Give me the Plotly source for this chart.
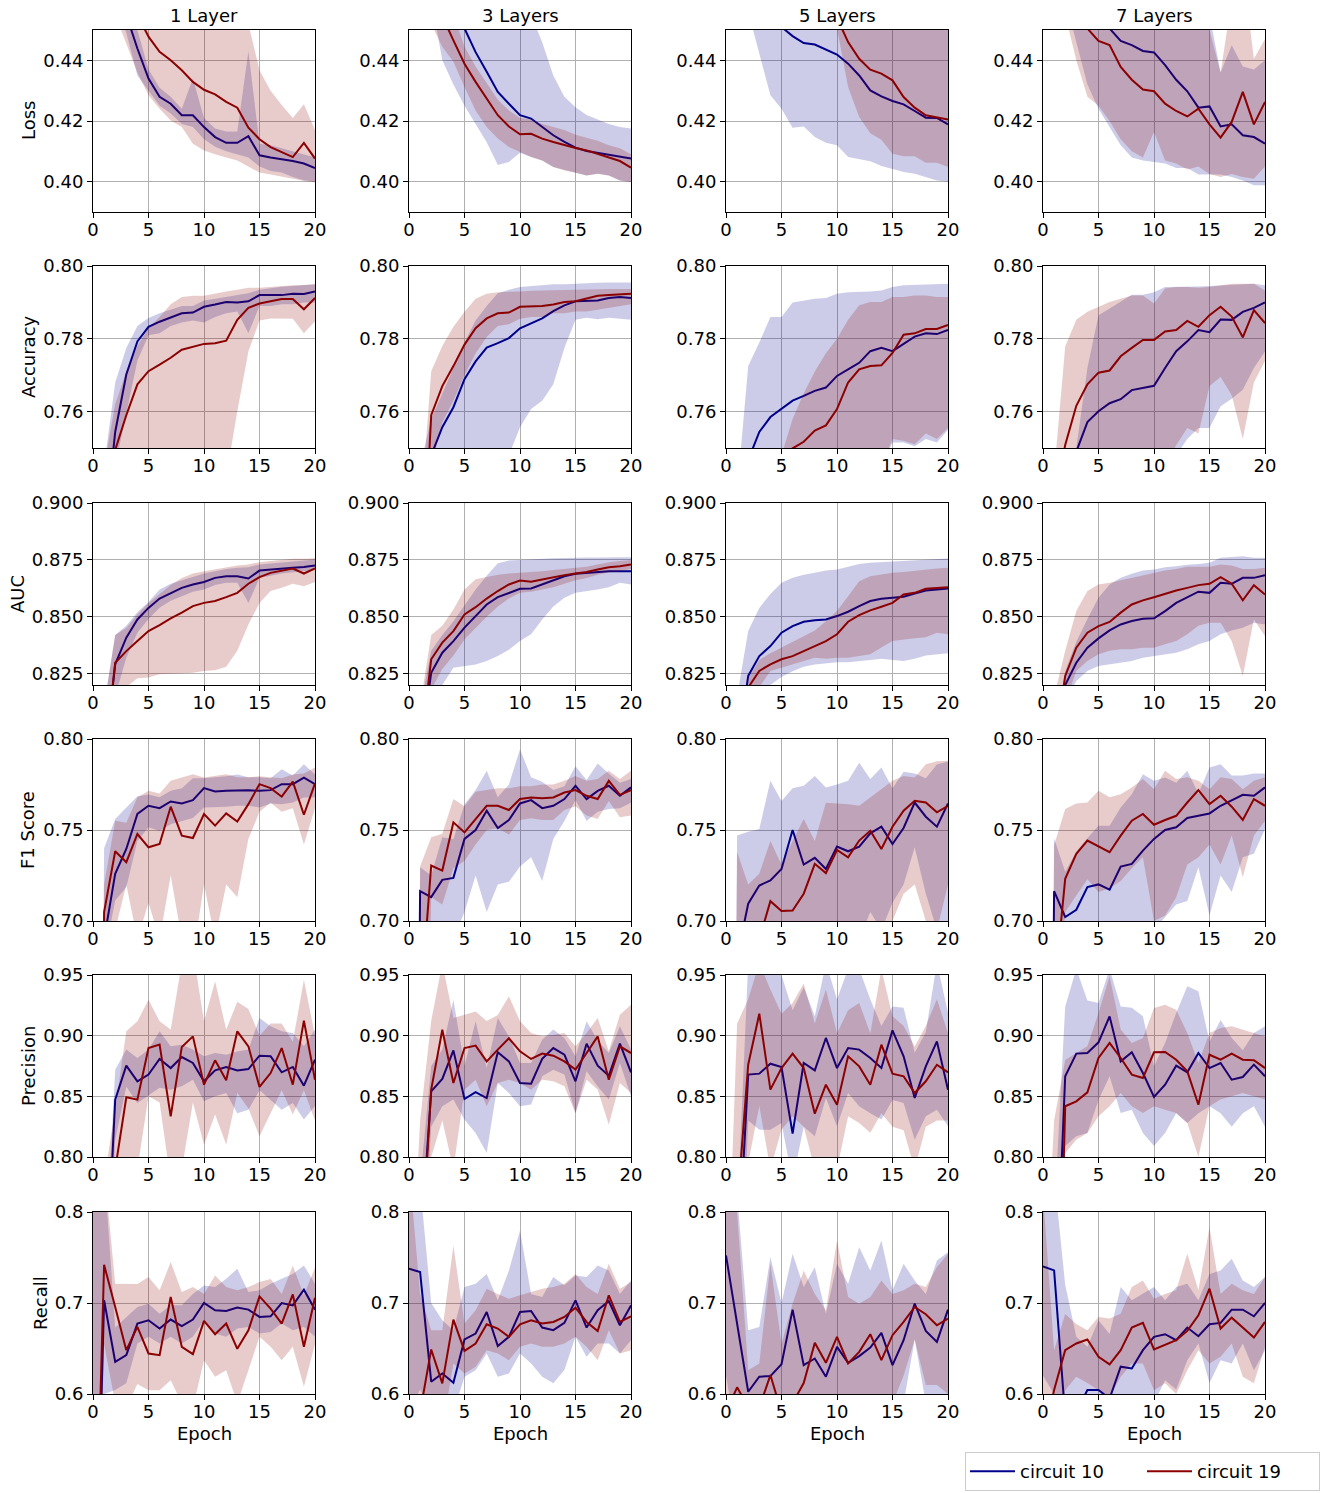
import plotly.graph_objects as go

EPOCHS = list(range(21))
LAYER_TITLES = ["1 Layer", "3 Layers", "5 Layers", "7 Layers"]
METRICS = ["Loss", "Accuracy", "AUC", "F1 Score", "Precision", "Recall"]
SERIES = ["circuit 10", "circuit 19"]

# ---------------- Loss ----------------
loss_1_c10 = [0.60, 0.52, 0.48, 0.455, 0.4439, 0.434, 0.428, 0.4257, 0.4219, 0.4219, 0.418, 0.4147, 0.4128, 0.4128, 0.415, 0.4087, 0.408, 0.4075, 0.4068, 0.406, 0.4045]
loss_1_c10_lo = [0.56, 0.49, 0.46, 0.449, 0.435, 0.430, 0.425, 0.4225, 0.419, 0.418, 0.414, 0.4115, 0.410, 0.409, 0.408, 0.405, 0.4035, 0.403, 0.4015, 0.4005, 0.400]
loss_1_c10_hi = [0.65, 0.55, 0.50, 0.462, 0.450, 0.437, 0.431, 0.428, 0.424, 0.434, 0.421, 0.4175, 0.4165, 0.4165, 0.443, 0.4125, 0.412, 0.411, 0.410, 0.409, 0.408]
loss_1_c19 = [0.60, 0.52, 0.48, 0.46, 0.455, 0.4478, 0.4428, 0.440, 0.4367, 0.4329, 0.4303, 0.4288, 0.4263, 0.4244, 0.4178, 0.414, 0.4114, 0.4098, 0.4081, 0.4128, 0.4076]
loss_1_c19_lo = [0.55, 0.48, 0.455, 0.445, 0.436, 0.4285, 0.424, 0.4202, 0.418, 0.4125, 0.4103, 0.409, 0.408, 0.407, 0.405, 0.403, 0.4024, 0.4018, 0.401, 0.4002, 0.3997]
loss_1_c19_hi = [0.66, 0.58, 0.53, 0.50, 0.49, 0.485, 0.48, 0.475, 0.47, 0.465, 0.462, 0.46, 0.458, 0.455, 0.452, 0.4367, 0.430, 0.4253, 0.421, 0.4255, 0.417]

loss_3_c10 = [0.62, 0.54, 0.50, 0.475, 0.46, 0.4505, 0.4427, 0.4362, 0.4296, 0.4257, 0.4219, 0.4208, 0.418, 0.4153, 0.4131, 0.4112, 0.4101, 0.4095, 0.4087, 0.4081, 0.4076]
loss_3_c10_lo = [0.58, 0.50, 0.46, 0.44, 0.432, 0.425, 0.419, 0.413, 0.4055, 0.4065, 0.4095, 0.4081, 0.407, 0.4048, 0.4037, 0.4029, 0.402, 0.4026, 0.402, 0.4004, 0.3999]
loss_3_c10_hi = [0.70, 0.62, 0.56, 0.52, 0.50, 0.49, 0.48, 0.475, 0.47, 0.465, 0.46, 0.455, 0.446, 0.435, 0.428, 0.4245, 0.422, 0.4205, 0.419, 0.418, 0.4175]
loss_3_c19 = [0.58, 0.50, 0.47, 0.4545, 0.4466, 0.4389, 0.4329, 0.4274, 0.4219, 0.4182, 0.4156, 0.4158, 0.4142, 0.4131, 0.412, 0.4111, 0.4103, 0.4092, 0.4079, 0.4068, 0.4046]
loss_3_c19_lo = [0.54, 0.47, 0.452, 0.4445, 0.4395, 0.4312, 0.4235, 0.418, 0.4142, 0.4114, 0.4098, 0.4081, 0.407, 0.4048, 0.4037, 0.4029, 0.402, 0.4026, 0.402, 0.4004, 0.3999]
loss_3_c19_hi = [0.64, 0.55, 0.50, 0.47, 0.455, 0.4445, 0.438, 0.4325, 0.427, 0.4235, 0.421, 0.4205, 0.419, 0.418, 0.417, 0.4155, 0.4145, 0.4135, 0.412, 0.411, 0.409]

loss_5_c10 = [0.60, 0.52, 0.49, 0.47, 0.46, 0.451, 0.448, 0.4457, 0.4452, 0.4435, 0.4419, 0.4389, 0.435, 0.4301, 0.4281, 0.4266, 0.4255, 0.4233, 0.4211, 0.421, 0.4189]
loss_5_c10_lo = [0.55, 0.50, 0.456, 0.442, 0.4285, 0.424, 0.4178, 0.4182, 0.4147, 0.4128, 0.412, 0.4081, 0.4073, 0.4067, 0.4052, 0.4043, 0.4032, 0.4026, 0.4015, 0.4004, 0.400]
loss_5_c10_hi = [0.70, 0.62, 0.58, 0.55, 0.53, 0.52, 0.51, 0.50, 0.49, 0.485, 0.48, 0.475, 0.47, 0.468, 0.466, 0.464, 0.462, 0.46, 0.458, 0.456, 0.455]
loss_5_c19 = [0.62, 0.55, 0.52, 0.50, 0.49, 0.48, 0.475, 0.47, 0.465, 0.46, 0.454, 0.446, 0.4405, 0.4369, 0.4356, 0.4334, 0.4279, 0.4244, 0.4219, 0.4213, 0.4205]
loss_5_c19_lo = [0.58, 0.52, 0.49, 0.48, 0.475, 0.47, 0.465, 0.462, 0.458, 0.455, 0.4505, 0.4312, 0.4213, 0.416, 0.4138, 0.4092, 0.4084, 0.4084, 0.4062, 0.4062, 0.4048]
loss_5_c19_hi = [0.70, 0.64, 0.60, 0.58, 0.56, 0.55, 0.54, 0.53, 0.52, 0.51, 0.50, 0.49, 0.48, 0.475, 0.47, 0.468, 0.465, 0.462, 0.46, 0.458, 0.457]

loss_7_c10 = [0.58, 0.50, 0.48, 0.47, 0.46, 0.455, 0.4505, 0.4464, 0.445, 0.4431, 0.4426, 0.4384, 0.4336, 0.4298, 0.4244, 0.4248, 0.4182, 0.4189, 0.4153, 0.4147, 0.4125]
loss_7_c10_lo = [0.52, 0.48, 0.46, 0.445, 0.432, 0.424, 0.418, 0.412, 0.408, 0.407, 0.4065, 0.406, 0.4045, 0.4045, 0.4024, 0.4024, 0.4024, 0.4015, 0.4004, 0.3988, 0.3988]
loss_7_c10_hi = [0.68, 0.62, 0.58, 0.55, 0.53, 0.51, 0.50, 0.49, 0.485, 0.48, 0.475, 0.47, 0.468, 0.465, 0.46, 0.455, 0.436, 0.445, 0.438, 0.437, 0.440]
loss_7_c19 = [0.56, 0.49, 0.47, 0.46, 0.4505, 0.4464, 0.445, 0.4378, 0.4336, 0.4304, 0.4298, 0.4257, 0.4233, 0.4215, 0.4241, 0.4189, 0.4145, 0.4197, 0.4296, 0.4189, 0.4263]
loss_7_c19_lo = [0.50, 0.47, 0.455, 0.44, 0.428, 0.425, 0.42, 0.414, 0.41, 0.408, 0.4164, 0.407, 0.406, 0.404, 0.405, 0.4025, 0.4015, 0.4025, 0.4015, 0.401, 0.405]
loss_7_c19_hi = [0.66, 0.60, 0.56, 0.53, 0.51, 0.50, 0.49, 0.485, 0.48, 0.475, 0.47, 0.465, 0.46, 0.458, 0.455, 0.45, 0.436, 0.46, 0.47, 0.4405, 0.447]

# ---------------- Accuracy ----------------
acc_1_c10 = [0.65, 0.725, 0.7544, 0.7702, 0.7793, 0.7833, 0.7847, 0.7858, 0.787, 0.7872, 0.7888, 0.7894, 0.7901, 0.79, 0.7903, 0.792, 0.792, 0.792, 0.7924, 0.7923, 0.793]
acc_1_c10_lo = [0.60, 0.70, 0.745, 0.76, 0.774, 0.781, 0.7815, 0.7835, 0.7845, 0.785, 0.7845, 0.786, 0.787, 0.7875, 0.7815, 0.789, 0.789, 0.7895, 0.7895, 0.790, 0.790]
acc_1_c10_hi = [0.70, 0.745, 0.768, 0.7775, 0.7835, 0.7857, 0.787, 0.788, 0.789, 0.789, 0.7905, 0.791, 0.7915, 0.792, 0.7925, 0.7935, 0.794, 0.7943, 0.7945, 0.7948, 0.795]
acc_1_c19 = [0.65, 0.72, 0.7495, 0.759, 0.7675, 0.7711, 0.7729, 0.7748, 0.777, 0.7779, 0.7786, 0.7788, 0.7795, 0.7852, 0.7885, 0.7897, 0.7904, 0.7909, 0.7909, 0.7881, 0.7912]
acc_1_c19_lo = [0.60, 0.68, 0.70, 0.71, 0.72, 0.725, 0.73, 0.73, 0.735, 0.735, 0.735, 0.738, 0.742, 0.76, 0.7765, 0.785, 0.7856, 0.7856, 0.7855, 0.7815, 0.7848]
acc_1_c19_hi = [0.70, 0.745, 0.762, 0.771, 0.778, 0.783, 0.786, 0.7895, 0.7915, 0.7918, 0.7918, 0.7925, 0.793, 0.7935, 0.794, 0.794, 0.7943, 0.7945, 0.7947, 0.7948, 0.795]

acc_3_c10 = [0.65, 0.72, 0.748, 0.7557, 0.7612, 0.7689, 0.7738, 0.7776, 0.7788, 0.7802, 0.7829, 0.7843, 0.7856, 0.7876, 0.7892, 0.7903, 0.7903, 0.7905, 0.7912, 0.7915, 0.7912]
acc_3_c10_lo = [0.60, 0.68, 0.70, 0.71, 0.715, 0.72, 0.725, 0.73, 0.735, 0.748, 0.7557, 0.7607, 0.763, 0.7675, 0.7775, 0.7852, 0.7858, 0.7854, 0.7858, 0.7855, 0.7852]
acc_3_c10_hi = [0.70, 0.745, 0.758, 0.765, 0.772, 0.779, 0.785, 0.789, 0.7925, 0.7935, 0.7942, 0.7945, 0.7948, 0.795, 0.795, 0.7952, 0.7953, 0.7954, 0.7955, 0.7956, 0.7955]
acc_3_c19 = [0.62, 0.70, 0.759, 0.767, 0.7725, 0.7784, 0.7829, 0.7856, 0.787, 0.7872, 0.7888, 0.7888, 0.789, 0.7894, 0.7901, 0.7903, 0.791, 0.7918, 0.792, 0.7921, 0.7924]
acc_3_c19_lo = [0.58, 0.66, 0.745, 0.757, 0.763, 0.77, 0.776, 0.7805, 0.7835, 0.784, 0.7855, 0.786, 0.786, 0.787, 0.787, 0.7875, 0.7875, 0.788, 0.7885, 0.789, 0.7895]
acc_3_c19_hi = [0.66, 0.73, 0.7711, 0.778, 0.7833, 0.7874, 0.791, 0.7924, 0.7928, 0.7928, 0.793, 0.7932, 0.7933, 0.7934, 0.7935, 0.7935, 0.7936, 0.7937, 0.7937, 0.7937, 0.7937]

acc_5_c10 = [0.70, 0.735, 0.7467, 0.7544, 0.7585, 0.7607, 0.763, 0.7643, 0.7657, 0.7666, 0.7698, 0.7716, 0.7734, 0.7766, 0.7775, 0.7766, 0.7786, 0.7806, 0.7815, 0.7813, 0.7824]
acc_5_c10_lo = [0.65, 0.70, 0.71, 0.715, 0.72, 0.722, 0.725, 0.727, 0.73, 0.732, 0.735, 0.737, 0.74, 0.742, 0.745, 0.7515, 0.7515, 0.7505, 0.7525, 0.7515, 0.755]
acc_5_c10_hi = [0.73, 0.738, 0.7725, 0.779, 0.786, 0.786, 0.790, 0.7906, 0.791, 0.7912, 0.7924, 0.7928, 0.7928, 0.793, 0.7933, 0.7942, 0.7947, 0.7948, 0.7951, 0.7951, 0.7951]
acc_5_c19 = [0.68, 0.72, 0.735, 0.74, 0.744, 0.747, 0.7499, 0.7517, 0.7548, 0.7562, 0.7607, 0.768, 0.7716, 0.7725, 0.7727, 0.7761, 0.7811, 0.7815, 0.7827, 0.7827, 0.7838]
acc_5_c19_lo = [0.62, 0.68, 0.70, 0.705, 0.71, 0.712, 0.715, 0.718, 0.72, 0.722, 0.725, 0.73, 0.735, 0.74, 0.745, 0.7525, 0.752, 0.751, 0.754, 0.7525, 0.7555]
acc_5_c19_hi = [0.70, 0.73, 0.738, 0.742, 0.745, 0.748, 0.758, 0.765, 0.771, 0.776, 0.780, 0.7852, 0.7892, 0.7901, 0.7901, 0.7915, 0.7915, 0.7919, 0.7919, 0.7915, 0.7915]

acc_7_c10 = [0.68, 0.72, 0.74, 0.749, 0.7571, 0.7601, 0.7623, 0.7634, 0.7659, 0.7666, 0.7671, 0.772, 0.7766, 0.7793, 0.7824, 0.7818, 0.7853, 0.7852, 0.7874, 0.7885, 0.79]
acc_7_c10_lo = [0.62, 0.68, 0.70, 0.71, 0.72, 0.725, 0.73, 0.733, 0.736, 0.74, 0.744, 0.746, 0.748, 0.7525, 0.7555, 0.7555, 0.7615, 0.7635, 0.766, 0.772, 0.7765]
acc_7_c10_hi = [0.72, 0.74, 0.745, 0.75, 0.772, 0.7865, 0.7883, 0.7903, 0.7921, 0.7921, 0.7928, 0.7942, 0.7942, 0.7943, 0.7944, 0.7945, 0.7947, 0.7949, 0.7951, 0.7951, 0.7947]
acc_7_c19 = [0.70, 0.735, 0.7508, 0.7616, 0.7675, 0.7707, 0.7713, 0.7752, 0.7775, 0.7797, 0.7797, 0.782, 0.7824, 0.7849, 0.7833, 0.7865, 0.7888, 0.7861, 0.7804, 0.7879, 0.7843]
acc_7_c19_lo = [0.64, 0.70, 0.71, 0.72, 0.725, 0.73, 0.733, 0.736, 0.739, 0.742, 0.744, 0.746, 0.7505, 0.7555, 0.754, 0.767, 0.7695, 0.7645, 0.7525, 0.768, 0.774]
acc_7_c19_hi = [0.72, 0.743, 0.7779, 0.7852, 0.7874, 0.7888, 0.7901, 0.791, 0.7919, 0.7919, 0.7897, 0.7938, 0.7942, 0.7942, 0.794, 0.7942, 0.7947, 0.7951, 0.7951, 0.7951, 0.7933]

# ---------------- AUC ----------------
auc_1_c10 = [0.75, 0.785, 0.8291, 0.8408, 0.8488, 0.8539, 0.858, 0.8605, 0.8627, 0.8642, 0.8653, 0.8671, 0.8678, 0.8678, 0.8668, 0.8703, 0.8708, 0.8712, 0.8715, 0.8719, 0.8725]
auc_1_c10_lo = [0.72, 0.77, 0.815, 0.832, 0.843, 0.849, 0.854, 0.857, 0.859, 0.861, 0.862, 0.864, 0.865, 0.865, 0.856, 0.867, 0.868, 0.869, 0.8695, 0.870, 0.8705]
auc_1_c10_hi = [0.78, 0.81, 0.842, 0.846, 0.852, 0.8565, 0.862, 0.8645, 0.866, 0.8675, 0.869, 0.870, 0.871, 0.8715, 0.8718, 0.873, 0.8735, 0.874, 0.8745, 0.875, 0.8752]
auc_1_c19 = [0.75, 0.785, 0.8298, 0.8349, 0.8393, 0.8437, 0.8463, 0.8493, 0.8518, 0.8547, 0.8561, 0.8569, 0.8586, 0.8605, 0.8645, 0.8674, 0.8693, 0.8703, 0.8712, 0.869, 0.8712]
auc_1_c19_lo = [0.70, 0.76, 0.815, 0.819, 0.823, 0.8233, 0.8247, 0.8248, 0.825, 0.8254, 0.8262, 0.8265, 0.828, 0.835, 0.8466, 0.856, 0.8613, 0.8627, 0.8645, 0.8634, 0.8653]
auc_1_c19_hi = [0.78, 0.81, 0.842, 0.845, 0.851, 0.856, 0.86, 0.864, 0.867, 0.869, 0.870, 0.8708, 0.8718, 0.8725, 0.873, 0.874, 0.8745, 0.875, 0.8755, 0.8755, 0.8757]

auc_3_c10 = [0.74, 0.79, 0.8254, 0.8342, 0.8393, 0.8452, 0.8503, 0.8554, 0.8586, 0.8605, 0.8623, 0.8624, 0.8642, 0.8661, 0.8678, 0.8689, 0.8693, 0.8697, 0.87, 0.87, 0.87]
auc_3_c10_lo = [0.70, 0.76, 0.81, 0.82, 0.8276, 0.8284, 0.829, 0.8306, 0.8327, 0.8355, 0.8393, 0.8423, 0.8488, 0.8545, 0.8583, 0.8605, 0.8613, 0.862, 0.863, 0.8649, 0.8642]
auc_3_c10_hi = [0.78, 0.81, 0.835, 0.842, 0.848, 0.855, 0.862, 0.868, 0.8735, 0.8747, 0.875, 0.8752, 0.8755, 0.8757, 0.8758, 0.876, 0.876, 0.876, 0.8762, 0.8762, 0.8762]
auc_3_c19 = [0.74, 0.79, 0.8313, 0.8386, 0.8437, 0.851, 0.8542, 0.858, 0.8613, 0.8642, 0.8659, 0.8654, 0.8664, 0.8674, 0.8683, 0.869, 0.8697, 0.8708, 0.8718, 0.8722, 0.873]
auc_3_c19_lo = [0.70, 0.76, 0.818, 0.827, 0.833, 0.840, 0.845, 0.850, 0.8545, 0.858, 0.8605, 0.861, 0.862, 0.863, 0.8645, 0.866, 0.867, 0.8685, 0.8695, 0.870, 0.871]
auc_3_c19_hi = [0.78, 0.81, 0.842, 0.846, 0.8532, 0.862, 0.8665, 0.8675, 0.8685, 0.869, 0.8693, 0.8695, 0.870, 0.8705, 0.871, 0.8715, 0.872, 0.873, 0.874, 0.8745, 0.875]

auc_5_c10 = [0.74, 0.79, 0.824, 0.8327, 0.8371, 0.843, 0.8459, 0.8478, 0.8485, 0.8488, 0.8503, 0.8522, 0.8547, 0.8569, 0.8579, 0.8583, 0.8588, 0.8602, 0.8615, 0.862, 0.8624]
auc_5_c10_lo = [0.70, 0.76, 0.81, 0.815, 0.82, 0.8235, 0.826, 0.828, 0.829, 0.8295, 0.830, 0.830, 0.8305, 0.831, 0.8315, 0.831, 0.8305, 0.8315, 0.833, 0.8335, 0.834]
auc_5_c10_hi = [0.78, 0.815, 0.8437, 0.8539, 0.860, 0.8649, 0.8671, 0.8685, 0.8693, 0.8703, 0.8708, 0.872, 0.8732, 0.8737, 0.874, 0.8742, 0.8745, 0.875, 0.8752, 0.8755, 0.8756]
auc_5_c19 = [0.74, 0.79, 0.8189, 0.8262, 0.8291, 0.8313, 0.8327, 0.8349, 0.8371, 0.8393, 0.8423, 0.8478, 0.8507, 0.8528, 0.8544, 0.8561, 0.8598, 0.8605, 0.8623, 0.8626, 0.863]
auc_5_c19_lo = [0.70, 0.76, 0.812, 0.819, 0.8262, 0.8276, 0.829, 0.8305, 0.832, 0.8315, 0.832, 0.832, 0.8327, 0.8335, 0.8365, 0.8393, 0.840, 0.8405, 0.841, 0.843, 0.8423]
auc_5_c19_hi = [0.78, 0.80, 0.823, 0.831, 0.834, 0.8365, 0.839, 0.8415, 0.844, 0.848, 0.8525, 0.859, 0.8656, 0.8678, 0.8686, 0.8693, 0.8697, 0.8703, 0.8708, 0.8712, 0.8715]

auc_7_c10 = [0.73, 0.78, 0.82, 0.8298, 0.8364, 0.8405, 0.844, 0.8466, 0.8481, 0.8491, 0.8493, 0.8525, 0.8561, 0.8586, 0.861, 0.8605, 0.8649, 0.8645, 0.8671, 0.8671, 0.8683]
auc_7_c10_lo = [0.70, 0.76, 0.812, 0.8218, 0.8262, 0.8284, 0.829, 0.8298, 0.8306, 0.832, 0.8327, 0.8335, 0.8342, 0.8357, 0.8379, 0.8393, 0.8423, 0.844, 0.8452, 0.8474, 0.8466]
auc_7_c10_hi = [0.76, 0.80, 0.826, 0.839, 0.849, 0.8583, 0.8642, 0.8671, 0.8689, 0.8703, 0.8708, 0.8718, 0.8722, 0.8729, 0.8732, 0.8737, 0.8759, 0.8762, 0.8766, 0.8759, 0.8759]
auc_7_c19 = [0.74, 0.79, 0.824, 0.8364, 0.843, 0.8459, 0.8477, 0.8518, 0.8554, 0.8572, 0.8586, 0.8601, 0.8615, 0.8627, 0.8639, 0.8645, 0.8674, 0.8645, 0.8572, 0.8639, 0.8598]
auc_7_c19_lo = [0.70, 0.77, 0.812, 0.8262, 0.8306, 0.8335, 0.835, 0.8357, 0.8357, 0.8364, 0.8364, 0.8379, 0.8393, 0.8423, 0.846, 0.8474, 0.8474, 0.8393, 0.824, 0.8488, 0.8415]
auc_7_c19_hi = [0.78, 0.815, 0.835, 0.8525, 0.8613, 0.8642, 0.8649, 0.866, 0.867, 0.868, 0.869, 0.8703, 0.871, 0.872, 0.872, 0.872, 0.873, 0.8725, 0.871, 0.871, 0.8715]

# ---------------- F1 Score ----------------
f1_1_c10 = [0.0, 0.69, 0.7259, 0.7396, 0.7588, 0.7633, 0.762, 0.7657, 0.7646, 0.7664, 0.773, 0.7712, 0.7715, 0.7719, 0.7719, 0.7715, 0.7719, 0.7752, 0.7752, 0.7788, 0.7752]
f1_1_c10_lo = [0.0, 0.68, 0.7113, 0.7186, 0.744, 0.7515, 0.7495, 0.7532, 0.755, 0.7566, 0.7624, 0.7624, 0.7628, 0.7633, 0.7633, 0.7624, 0.7646, 0.7642, 0.7651, 0.7679, 0.7679]
f1_1_c10_hi = [0.0, 0.740, 0.756, 0.762, 0.7685, 0.7695, 0.768, 0.7715, 0.773, 0.7785, 0.7785, 0.779, 0.7795, 0.7805, 0.779, 0.779, 0.7785, 0.7834, 0.780, 0.7861, 0.7805]
f1_1_c19 = [0.0, 0.7049, 0.7383, 0.7323, 0.7478, 0.7405, 0.7423, 0.7628, 0.7469, 0.7456, 0.7588, 0.7524, 0.7591, 0.7547, 0.7642, 0.7752, 0.773, 0.7683, 0.7766, 0.7584, 0.7756]
f1_1_c19_lo = [0.0, 0.69, 0.695, 0.72, 0.69, 0.71, 0.69, 0.725, 0.69, 0.68, 0.72, 0.69, 0.72, 0.713, 0.745, 0.76, 0.765, 0.760, 0.762, 0.742, 0.762]
f1_1_c19_hi = [0.0, 0.72, 0.7551, 0.754, 0.7679, 0.7715, 0.770, 0.777, 0.7788, 0.7807, 0.7788, 0.7797, 0.7807, 0.779, 0.779, 0.7795, 0.779, 0.7785, 0.7805, 0.781, 0.7843]

f1_3_c10 = [0.0, 0.7164, 0.7131, 0.7226, 0.7237, 0.7451, 0.75, 0.7606, 0.7511, 0.7555, 0.7646, 0.7664, 0.762, 0.7633, 0.767, 0.7743, 0.767, 0.7715, 0.7743, 0.7688, 0.7734]
f1_3_c10_lo = [0.0, 0.69, 0.68, 0.68, 0.69, 0.705, 0.725, 0.705, 0.72, 0.7215, 0.73, 0.735, 0.722, 0.745, 0.755, 0.7665, 0.755, 0.760, 0.7615, 0.762, 0.765]
f1_3_c10_hi = [0.0, 0.7296, 0.725, 0.746, 0.745, 0.764, 0.772, 0.7825, 0.768, 0.775, 0.7944, 0.779, 0.7765, 0.772, 0.774, 0.785, 0.7775, 0.7865, 0.781, 0.776, 0.778]
f1_3_c19 = [0.0, 0.65, 0.7305, 0.7277, 0.7542, 0.7487, 0.756, 0.7633, 0.7633, 0.761, 0.767, 0.7679, 0.7675, 0.7679, 0.7706, 0.7719, 0.7688, 0.767, 0.777, 0.7693, 0.7719]
f1_3_c19_lo = [0.0, 0.60, 0.713, 0.709, 0.729, 0.733, 0.742, 0.75, 0.751, 0.7475, 0.7555, 0.7565, 0.7555, 0.7555, 0.761, 0.763, 0.758, 0.756, 0.766, 0.757, 0.758]
f1_3_c19_hi = [0.0, 0.73, 0.746, 0.748, 0.767, 0.763, 0.771, 0.772, 0.773, 0.773, 0.774, 0.774, 0.775, 0.775, 0.777, 0.7797, 0.777, 0.778, 0.7825, 0.778, 0.7825]

f1_5_c10 = [0.0, 0.68, 0.7095, 0.7195, 0.7223, 0.7286, 0.75, 0.731, 0.7347, 0.7286, 0.7409, 0.7383, 0.7409, 0.7482, 0.7518, 0.7423, 0.7511, 0.7651, 0.7573, 0.7518, 0.7646]
f1_5_c10_lo = [0.0, 0.65, 0.67, 0.68, 0.69, 0.685, 0.70, 0.69, 0.695, 0.69, 0.685, 0.695, 0.69, 0.705, 0.695, 0.71, 0.72, 0.7405, 0.715, 0.695, 0.70]
f1_5_c10_hi = [0.0, 0.747, 0.749, 0.7505, 0.777, 0.766, 0.773, 0.7743, 0.7797, 0.7733, 0.775, 0.777, 0.787, 0.778, 0.7843, 0.773, 0.782, 0.781, 0.7785, 0.786, 0.7876]
f1_5_c19 = [0.0, 0.65, 0.68, 0.69, 0.7109, 0.7055, 0.7058, 0.715, 0.7314, 0.7263, 0.739, 0.735, 0.7442, 0.7496, 0.7396, 0.7518, 0.7606, 0.7661, 0.7651, 0.7597, 0.7633]
f1_5_c19_lo = [0.0, 0.60, 0.64, 0.66, 0.68, 0.67, 0.68, 0.685, 0.69, 0.68, 0.69, 0.685, 0.695, 0.69, 0.69, 0.70, 0.715, 0.72, 0.70, 0.695, 0.72]
f1_5_c19_hi = [0.0, 0.738, 0.72, 0.726, 0.744, 0.731, 0.744, 0.756, 0.744, 0.765, 0.7646, 0.7642, 0.7633, 0.768, 0.7725, 0.777, 0.7797, 0.7788, 0.7861, 0.7878, 0.788]

f1_7_c10 = [0.0, 0.7164, 0.7022, 0.7062, 0.7186, 0.7201, 0.7172, 0.7299, 0.7314, 0.7387, 0.7451, 0.75, 0.7515, 0.7566, 0.7578, 0.7591, 0.7633, 0.7664, 0.7693, 0.7688, 0.7734]
f1_7_c10_lo = [0.0, 0.68, 0.67, 0.67, 0.68, 0.68, 0.685, 0.69, 0.69, 0.69, 0.695, 0.7022, 0.709, 0.711, 0.7296, 0.703, 0.725, 0.716, 0.735, 0.737, 0.7505]
f1_7_c10_hi = [0.0, 0.7455, 0.727, 0.738, 0.7455, 0.7523, 0.7523, 0.7624, 0.7697, 0.7807, 0.777, 0.7788, 0.776, 0.7825, 0.770, 0.7843, 0.7861, 0.780, 0.780, 0.781, 0.781]
f1_7_c19 = [0.0, 0.66, 0.7232, 0.7369, 0.7442, 0.7409, 0.7378, 0.7469, 0.7551, 0.7588, 0.7529, 0.7555, 0.7578, 0.7651, 0.7719, 0.7642, 0.7688, 0.7628, 0.7555, 0.767, 0.7633]
f1_7_c19_lo = [0.0, 0.62, 0.705, 0.714, 0.723, 0.716, 0.718, 0.722, 0.729, 0.735, 0.70, 0.703, 0.713, 0.731, 0.735, 0.742, 0.731, 0.747, 0.724, 0.747, 0.755]
f1_7_c19_hi = [0.0, 0.7416, 0.7615, 0.7646, 0.7651, 0.7715, 0.768, 0.7697, 0.7734, 0.778, 0.7724, 0.7825, 0.778, 0.779, 0.777, 0.7724, 0.779, 0.778, 0.7724, 0.777, 0.779]

# ---------------- Precision ----------------
prec_1_c10 = [0.60, 0.66, 0.8473, 0.8753, 0.8624, 0.8679, 0.8808, 0.8733, 0.8824, 0.8775, 0.8624, 0.8714, 0.8742, 0.8714, 0.8725, 0.8835, 0.883, 0.8698, 0.8742, 0.8588, 0.8802]
prec_1_c10_lo = [0.55, 0.62, 0.814, 0.858, 0.8445, 0.851, 0.857, 0.8555, 0.8583, 0.8637, 0.846, 0.85, 0.8527, 0.836, 0.839, 0.855, 0.8473, 0.839, 0.8445, 0.831, 0.842]
prec_1_c10_hi = [0.65, 0.70, 0.872, 0.8885, 0.8816, 0.8885, 0.9036, 0.8912, 0.8926, 0.8885, 0.883, 0.8857, 0.8843, 0.887, 0.8885, 0.9146, 0.9077, 0.9036, 0.9022, 0.8912, 0.905]
prec_1_c19 = [0.60, 0.70, 0.79, 0.8492, 0.8473, 0.8898, 0.8926, 0.8335, 0.8907, 0.8994, 0.8596, 0.8797, 0.8632, 0.9036, 0.8912, 0.8577, 0.8692, 0.8898, 0.8596, 0.9124, 0.8637]
prec_1_c19_lo = [0.55, 0.62, 0.74, 0.78, 0.79, 0.85, 0.845, 0.78, 0.79, 0.845, 0.81, 0.835, 0.81, 0.853, 0.84, 0.817, 0.836, 0.855, 0.835, 0.855, 0.83]
prec_1_c19_hi = [0.65, 0.78, 0.84, 0.9036, 0.9118, 0.9297, 0.9118, 0.905, 0.96, 0.97, 0.912, 0.9448, 0.905, 0.928, 0.922, 0.90, 0.91, 0.91, 0.895, 0.946, 0.90]

prec_3_c10 = [0.60, 0.72, 0.8541, 0.8643, 0.8879, 0.8478, 0.8535, 0.8486, 0.8863, 0.8788, 0.861, 0.8604, 0.881, 0.8898, 0.8843, 0.8624, 0.8934, 0.8753, 0.867, 0.8934, 0.8698]
prec_3_c10_lo = [0.55, 0.65, 0.825, 0.8418, 0.8473, 0.8308, 0.8198, 0.8033, 0.861, 0.8527, 0.8418, 0.8432, 0.8665, 0.872, 0.8679, 0.836, 0.8706, 0.8582, 0.8473, 0.8775, 0.85]
prec_3_c10_hi = [0.65, 0.78, 0.875, 0.8885, 0.9297, 0.875, 0.9118, 0.8733, 0.9146, 0.8994, 0.8775, 0.8775, 0.8967, 0.905, 0.898, 0.883, 0.9118, 0.896, 0.8857, 0.9077, 0.8885]
prec_3_c19 = [0.60, 0.70, 0.8555, 0.9049, 0.861, 0.8898, 0.8918, 0.8788, 0.8885, 0.8978, 0.8871, 0.8808, 0.8852, 0.8835, 0.8788, 0.872, 0.8857, 0.8994, 0.8637, 0.8912, 0.8857]
prec_3_c19_lo = [0.55, 0.62, 0.80, 0.83, 0.79, 0.8555, 0.8637, 0.8418, 0.861, 0.8637, 0.861, 0.8555, 0.8637, 0.8624, 0.8583, 0.836, 0.8637, 0.8555, 0.8266, 0.861, 0.8527]
prec_3_c19_hi = [0.65, 0.83, 0.912, 0.96, 0.9146, 0.917, 0.92, 0.912, 0.917, 0.9324, 0.912, 0.9022, 0.8995, 0.9008, 0.9022, 0.8912, 0.9022, 0.9146, 0.8871, 0.9173, 0.9255]

prec_5_c10 = [0.60, 0.70, 0.8679, 0.8687, 0.8769, 0.8742, 0.8192, 0.8775, 0.8714, 0.8981, 0.8733, 0.8898, 0.8885, 0.8816, 0.8733, 0.9044, 0.883, 0.8486, 0.8747, 0.8953, 0.8555]
prec_5_c10_lo = [0.55, 0.60, 0.83, 0.8225, 0.8225, 0.828, 0.78, 0.825, 0.817, 0.8486, 0.8253, 0.8527, 0.8418, 0.836, 0.831, 0.847, 0.8445, 0.8143, 0.8335, 0.839, 0.8253]
prec_5_c10_hi = [0.65, 0.75, 0.96, 0.96, 0.955, 0.95, 0.921, 0.94, 0.916, 0.96, 0.93, 0.955, 0.955, 0.93, 0.908, 0.924, 0.923, 0.886, 0.903, 0.96, 0.919]
prec_5_c19 = [0.60, 0.757, 0.8761, 0.9181, 0.8555, 0.8733, 0.8852, 0.8733, 0.8357, 0.8596, 0.8431, 0.883, 0.8747, 0.8596, 0.8926, 0.8687, 0.8665, 0.8527, 0.8624, 0.876, 0.8698]
prec_5_c19_lo = [0.55, 0.70, 0.795, 0.842, 0.79, 0.8225, 0.8335, 0.825, 0.79, 0.80, 0.79, 0.8335, 0.828, 0.82, 0.836, 0.825, 0.822, 0.79, 0.825, 0.83, 0.83]
prec_5_c19_hi = [0.65, 0.91, 0.93, 0.96, 0.938, 0.918, 0.927, 0.943, 0.91, 0.938, 0.902, 0.921, 0.927, 0.902, 0.955, 0.916, 0.908, 0.891, 0.908, 0.93, 0.902]

prec_7_c10 = [0.60, 0.645, 0.8665, 0.8852, 0.8857, 0.8945, 0.9159, 0.8788, 0.8863, 0.8692, 0.8495, 0.8596, 0.8753, 0.8698, 0.8857, 0.8733, 0.8775, 0.8637, 0.8659, 0.8761, 0.8665]
prec_7_c10_lo = [0.55, 0.60, 0.809, 0.817, 0.8198, 0.847, 0.8665, 0.8363, 0.839, 0.8198, 0.809, 0.8198, 0.836, 0.828, 0.836, 0.8418, 0.836, 0.825, 0.836, 0.8418, 0.825]
prec_7_c10_hi = [0.65, 0.75, 0.924, 0.955, 0.929, 0.927, 0.955, 0.924, 0.923, 0.916, 0.8747, 0.894, 0.9187, 0.9407, 0.9366, 0.895, 0.913, 0.898, 0.888, 0.9022, 0.9077]
prec_7_c19 = [0.60, 0.50, 0.8418, 0.8459, 0.8533, 0.8816, 0.894, 0.8816, 0.8679, 0.8651, 0.8863, 0.8865, 0.8802, 0.8706, 0.8431, 0.8843, 0.8802, 0.8852, 0.8802, 0.8797, 0.8733]
prec_7_c19_lo = [0.55, 0.60, 0.8033, 0.8143, 0.8198, 0.8335, 0.8418, 0.8527, 0.8418, 0.8363, 0.8418, 0.839, 0.8363, 0.828, 0.80, 0.8418, 0.8473, 0.85, 0.8527, 0.85, 0.8473]
prec_7_c19_hi = [0.65, 0.83, 0.88, 0.8857, 0.8912, 0.9187, 0.949, 0.905, 0.894, 0.898, 0.9228, 0.9255, 0.9214, 0.9022, 0.8775, 0.9022, 0.9063, 0.9077, 0.905, 0.9022, 0.8994]

# ---------------- Recall ----------------
rec_1_c10 = [0.25, 0.703, 0.6354, 0.6427, 0.6774, 0.681, 0.6719, 0.6818, 0.6745, 0.6818, 0.70, 0.692, 0.6912, 0.6949, 0.6927, 0.6847, 0.6854, 0.70, 0.6974, 0.7146, 0.6927]
rec_1_c10_lo = [0.20, 0.60, 0.6044, 0.6117, 0.6555, 0.6628, 0.6555, 0.6628, 0.6555, 0.6628, 0.681, 0.6664, 0.6628, 0.6719, 0.6737, 0.6664, 0.6682, 0.6774, 0.6701, 0.6737, 0.6628]
rec_1_c10_hi = [0.90, 0.85, 0.673, 0.684, 0.6956, 0.6993, 0.6883, 0.6974, 0.6974, 0.71, 0.7193, 0.7175, 0.7266, 0.7376, 0.712, 0.714, 0.7212, 0.7266, 0.732, 0.7412, 0.7212]
rec_1_c19 = [0.30, 0.742, 0.6956, 0.6482, 0.6737, 0.6445, 0.6427, 0.7066, 0.6518, 0.6438, 0.6803, 0.6657, 0.6774, 0.6496, 0.67, 0.7073, 0.6938, 0.6774, 0.7095, 0.652, 0.7058]
rec_1_c19_lo = [0.20, 0.655, 0.59, 0.585, 0.611, 0.604, 0.604, 0.615, 0.59, 0.585, 0.637, 0.619, 0.626, 0.59, 0.626, 0.663, 0.652, 0.637, 0.652, 0.608, 0.655]
rec_1_c19_hi = [0.90, 0.85, 0.7212, 0.721, 0.721, 0.7285, 0.714, 0.745, 0.712, 0.7175, 0.71, 0.7303, 0.7175, 0.714, 0.7175, 0.723, 0.7265, 0.71, 0.741, 0.7085, 0.739]

rec_3_c10 = [0.7376, 0.734, 0.6135, 0.6226, 0.6124, 0.6599, 0.6664, 0.6901, 0.6526, 0.6628, 0.6901, 0.6912, 0.673, 0.6701, 0.6781, 0.7029, 0.673, 0.692, 0.7022, 0.6755, 0.6974]
rec_3_c10_lo = [0.58, 0.605, 0.58, 0.57, 0.58, 0.619, 0.626, 0.6445, 0.619, 0.6226, 0.6445, 0.6336, 0.619, 0.6117, 0.6263, 0.6628, 0.6409, 0.6555, 0.6555, 0.6445, 0.659]
rec_3_c10_hi = [0.85, 0.83, 0.70, 0.681, 0.67, 0.7175, 0.7212, 0.732, 0.703, 0.7358, 0.7796, 0.71, 0.7066, 0.7285, 0.7194, 0.7303, 0.7285, 0.7412, 0.7358, 0.71, 0.7248]
rec_3_c19 = [0.50, 0.58, 0.6489, 0.6117, 0.6818, 0.6474, 0.6555, 0.6766, 0.6719, 0.6628, 0.6766, 0.681, 0.6774, 0.6792, 0.6847, 0.6949, 0.6792, 0.6693, 0.7084, 0.6792, 0.6854]
rec_3_c19_lo = [0.50, 0.50, 0.59, 0.56, 0.6336, 0.6226, 0.63, 0.6482, 0.6445, 0.6372, 0.6518, 0.6555, 0.6518, 0.6518, 0.6555, 0.6628, 0.6518, 0.6372, 0.67, 0.6445, 0.6482]
rec_3_c19_hi = [0.85, 0.71, 0.67, 0.67, 0.7632, 0.6774, 0.692, 0.7157, 0.71, 0.7047, 0.7084, 0.712, 0.7157, 0.7175, 0.7212, 0.732, 0.7175, 0.71, 0.743, 0.7157, 0.723]

rec_5_c10 = [0.7522, 0.6755, 0.6025, 0.619, 0.6197, 0.6328, 0.6927, 0.6317, 0.639, 0.619, 0.6518, 0.6343, 0.6416, 0.6511, 0.6672, 0.6317, 0.6591, 0.6993, 0.6693, 0.6573, 0.6927]
rec_5_c10_lo = [0.62, 0.55, 0.53, 0.55, 0.56, 0.57, 0.60, 0.56, 0.57, 0.56, 0.58, 0.57, 0.575, 0.58, 0.59, 0.57, 0.59, 0.66, 0.59, 0.58, 0.59]
rec_5_c10_hi = [0.85, 0.82, 0.67, 0.6737, 0.7504, 0.70, 0.754, 0.7175, 0.7394, 0.6883, 0.743, 0.7212, 0.7613, 0.7358, 0.7686, 0.714, 0.743, 0.7248, 0.71, 0.7467, 0.7558]
rec_5_c19 = [0.58, 0.6073, 0.586, 0.585, 0.6208, 0.58, 0.59, 0.612, 0.6562, 0.6343, 0.6628, 0.6336, 0.6463, 0.6657, 0.6372, 0.6646, 0.6792, 0.6956, 0.6876, 0.6755, 0.6828]
rec_5_c19_lo = [0.50, 0.52, 0.52, 0.52, 0.55, 0.52, 0.53, 0.54, 0.57, 0.56, 0.58, 0.56, 0.57, 0.58, 0.57, 0.59, 0.62, 0.66, 0.61, 0.61, 0.60]
rec_5_c19_hi = [0.85, 0.80, 0.626, 0.6336, 0.743, 0.655, 0.6993, 0.7358, 0.71, 0.6919, 0.7686, 0.7066, 0.6993, 0.7066, 0.7248, 0.71, 0.714, 0.7212, 0.7175, 0.7394, 0.754]

rec_7_c10 = [0.7401, 0.7358, 0.575, 0.58, 0.6044, 0.6044, 0.595, 0.63, 0.6281, 0.6482, 0.6628, 0.6657, 0.6591, 0.673, 0.6635, 0.6766, 0.6781, 0.6927, 0.6927, 0.6854, 0.70]
rec_7_c10_lo = [0.62, 0.60, 0.50, 0.50, 0.55, 0.55, 0.54, 0.57, 0.57, 0.58, 0.59, 0.615, 0.605, 0.637, 0.6555, 0.612, 0.637, 0.6336, 0.6555, 0.626, 0.648]
rec_7_c10_hi = [0.85, 0.84, 0.72, 0.663, 0.652, 0.681, 0.666, 0.7175, 0.703, 0.7103, 0.7175, 0.703, 0.7175, 0.7212, 0.703, 0.732, 0.7358, 0.7485, 0.7248, 0.7175, 0.7285]
rec_7_c19 = [0.55, 0.6044, 0.6482, 0.6555, 0.6599, 0.6409, 0.6325, 0.6482, 0.673, 0.6781, 0.6489, 0.6536, 0.6591, 0.6693, 0.6865, 0.7157, 0.6719, 0.6839, 0.673, 0.662, 0.6792]
rec_7_c19_lo = [0.50, 0.56, 0.604, 0.619, 0.612, 0.604, 0.597, 0.619, 0.6336, 0.6336, 0.604, 0.6117, 0.60, 0.626, 0.648, 0.6336, 0.641, 0.6555, 0.619, 0.6117, 0.652]
rec_7_c19_hi = [0.82, 0.648, 0.688, 0.677, 0.67, 0.6847, 0.683, 0.6883, 0.7175, 0.7248, 0.7047, 0.71, 0.7139, 0.754, 0.7139, 0.7832, 0.71, 0.7212, 0.7139, 0.71, 0.7285]

Y_RANGES = [[0.39, 0.45], [0.75, 0.80], [0.82, 0.90], [0.70, 0.80], [0.80, 0.95], [0.6, 0.8]]
Y_TICKS = [[0.40, 0.42, 0.44], [0.76, 0.78, 0.80], [0.825, 0.850, 0.875, 0.900],
           [0.70, 0.75, 0.80], [0.80, 0.85, 0.90, 0.95], [0.6, 0.7, 0.8]]
Y_FORMATS = [".2f", ".2f", ".3f", ".2f", ".2f", ".1f"]
X_TICKS = [0, 5, 10, 15, 20]

PANELS = [
    [(loss_1_c10, loss_1_c10_lo, loss_1_c10_hi, loss_1_c19, loss_1_c19_lo, loss_1_c19_hi),
     (loss_3_c10, loss_3_c10_lo, loss_3_c10_hi, loss_3_c19, loss_3_c19_lo, loss_3_c19_hi),
     (loss_5_c10, loss_5_c10_lo, loss_5_c10_hi, loss_5_c19, loss_5_c19_lo, loss_5_c19_hi),
     (loss_7_c10, loss_7_c10_lo, loss_7_c10_hi, loss_7_c19, loss_7_c19_lo, loss_7_c19_hi)],
    [(acc_1_c10, acc_1_c10_lo, acc_1_c10_hi, acc_1_c19, acc_1_c19_lo, acc_1_c19_hi),
     (acc_3_c10, acc_3_c10_lo, acc_3_c10_hi, acc_3_c19, acc_3_c19_lo, acc_3_c19_hi),
     (acc_5_c10, acc_5_c10_lo, acc_5_c10_hi, acc_5_c19, acc_5_c19_lo, acc_5_c19_hi),
     (acc_7_c10, acc_7_c10_lo, acc_7_c10_hi, acc_7_c19, acc_7_c19_lo, acc_7_c19_hi)],
    [(auc_1_c10, auc_1_c10_lo, auc_1_c10_hi, auc_1_c19, auc_1_c19_lo, auc_1_c19_hi),
     (auc_3_c10, auc_3_c10_lo, auc_3_c10_hi, auc_3_c19, auc_3_c19_lo, auc_3_c19_hi),
     (auc_5_c10, auc_5_c10_lo, auc_5_c10_hi, auc_5_c19, auc_5_c19_lo, auc_5_c19_hi),
     (auc_7_c10, auc_7_c10_lo, auc_7_c10_hi, auc_7_c19, auc_7_c19_lo, auc_7_c19_hi)],
    [(f1_1_c10, f1_1_c10_lo, f1_1_c10_hi, f1_1_c19, f1_1_c19_lo, f1_1_c19_hi),
     (f1_3_c10, f1_3_c10_lo, f1_3_c10_hi, f1_3_c19, f1_3_c19_lo, f1_3_c19_hi),
     (f1_5_c10, f1_5_c10_lo, f1_5_c10_hi, f1_5_c19, f1_5_c19_lo, f1_5_c19_hi),
     (f1_7_c10, f1_7_c10_lo, f1_7_c10_hi, f1_7_c19, f1_7_c19_lo, f1_7_c19_hi)],
    [(prec_1_c10, prec_1_c10_lo, prec_1_c10_hi, prec_1_c19, prec_1_c19_lo, prec_1_c19_hi),
     (prec_3_c10, prec_3_c10_lo, prec_3_c10_hi, prec_3_c19, prec_3_c19_lo, prec_3_c19_hi),
     (prec_5_c10, prec_5_c10_lo, prec_5_c10_hi, prec_5_c19, prec_5_c19_lo, prec_5_c19_hi),
     (prec_7_c10, prec_7_c10_lo, prec_7_c10_hi, prec_7_c19, prec_7_c19_lo, prec_7_c19_hi)],
    [(rec_1_c10, rec_1_c10_lo, rec_1_c10_hi, rec_1_c19, rec_1_c19_lo, rec_1_c19_hi),
     (rec_3_c10, rec_3_c10_lo, rec_3_c10_hi, rec_3_c19, rec_3_c19_lo, rec_3_c19_hi),
     (rec_5_c10, rec_5_c10_lo, rec_5_c10_hi, rec_5_c19, rec_5_c19_lo, rec_5_c19_hi),
     (rec_7_c10, rec_7_c10_lo, rec_7_c10_hi, rec_7_c19, rec_7_c19_lo, rec_7_c19_hi)],
]

# ---------------- layout geometry (pixels) ----------------
W, H = 1333, 1493
COL_PX = [(93, 315), (409, 631), (726, 948), (1043, 1265)]
ROW_PX = [(30, 212), (266, 448), (503, 685), (739, 921), (975, 1157), (1212, 1394)]
YLABEL_X = [28, 28, 17, 28, 28, 40]

FONT = "DejaVu Sans"
FS = 18
C10 = "#00008b"
C19 = "#8b0000"
C10_FILL = "rgba(0,0,139,0.2)"
C19_FILL = "rgba(139,0,0,0.2)"

fig = go.Figure()
layout = {}
annotations = []

for r in range(6):
    for c in range(4):
        n = r * 4 + c + 1
        xname = "x" if n == 1 else f"x{n}"
        yname = "y" if n == 1 else f"y{n}"
        m10, lo10, hi10, m19, lo19, hi19 = PANELS[r][c]
        band_x = EPOCHS + EPOCHS[::-1]
        for mean, lo, hi, col, fillc, name in [
            (m10, lo10, hi10, C10, C10_FILL, SERIES[0]),
            (m19, lo19, hi19, C19, C19_FILL, SERIES[1]),
        ]:
            fig.add_trace(go.Scatter(
                x=band_x, y=hi + lo[::-1], fill="toself", fillcolor=fillc,
                mode="lines", line=dict(width=0, color=fillc), hoverinfo="skip",
                showlegend=False, xaxis=xname, yaxis=yname))
            fig.add_trace(go.Scatter(
                x=EPOCHS, y=mean, mode="lines", line=dict(color=col, width=2),
                name=name, legendgroup=name, showlegend=(n == 1),
                xaxis=xname, yaxis=yname))
        x0, x1 = COL_PX[c]
        y0, y1 = ROW_PX[r]
        common = dict(showline=True, linecolor="black", linewidth=1, mirror=True,
                      ticks="outside", ticklen=5, tickwidth=1, tickcolor="black",
                      showgrid=True, gridcolor="#b0b0b0", gridwidth=0.8, automargin=False,
                      zeroline=False, tickfont=dict(family=FONT, size=FS, color="black"))
        layout["xaxis" if n == 1 else f"xaxis{n}"] = dict(
            domain=[x0 / W, x1 / W], anchor=yname, ticklabelstandoff=-4,
            range=[-1e-6, 20 + 1e-6], tickmode="array", tickvals=X_TICKS, **common)
        lo_r, hi_r = Y_RANGES[r]
        layout["yaxis" if n == 1 else f"yaxis{n}"] = dict(
            domain=[1 - y1 / H, 1 - y0 / H], anchor=xname,
            range=[lo_r - 1e-9, hi_r + 1e-9], tickmode="array", tickvals=Y_TICKS[r],
            tickformat=Y_FORMATS[r], **common)

# Column titles and x-axis labels
for c, t in enumerate(LAYER_TITLES):
    cx = (COL_PX[c][0] + COL_PX[c][1]) / 2
    annotations.append(dict(text=t, x=cx / W, y=1 - 16 / H, xref="paper", yref="paper",
                            xanchor="center", yanchor="middle", showarrow=False,
                            font=dict(family=FONT, size=FS, color="black")))
    annotations.append(dict(text="Epoch", x=cx / W, y=1 - 1433 / H, xref="paper", yref="paper",
                            xanchor="center", yanchor="middle", showarrow=False,
                            font=dict(family=FONT, size=FS, color="black")))
# Row labels
for r, t in enumerate(METRICS):
    cy = (ROW_PX[r][0] + ROW_PX[r][1]) / 2
    annotations.append(dict(text=t, x=YLABEL_X[r] / W, y=1 - cy / H, xref="paper", yref="paper",
                            xanchor="center", yanchor="middle", textangle=-90, showarrow=False,
                            font=dict(family=FONT, size=FS, color="black")))

fig.update_layout(
    width=W, height=H,
    margin=dict(l=0, r=0, t=0, b=0, autoexpand=False),
    paper_bgcolor="white", plot_bgcolor="white",
    font=dict(family=FONT, size=FS, color="black"),
    showlegend=True,
    legend=dict(orientation="h", x=1320 / W, xanchor="right", y=1 - 1491 / H, yanchor="bottom",
                bordercolor="#cccccc", borderwidth=1, bgcolor="white",
                font=dict(family=FONT, size=FS, color="black"),
                itemwidth=45, entrywidth=117, entrywidthmode="pixels"),
    annotations=annotations,
    hovermode=False,
    **layout,
)

fig.write_html("out.html")
